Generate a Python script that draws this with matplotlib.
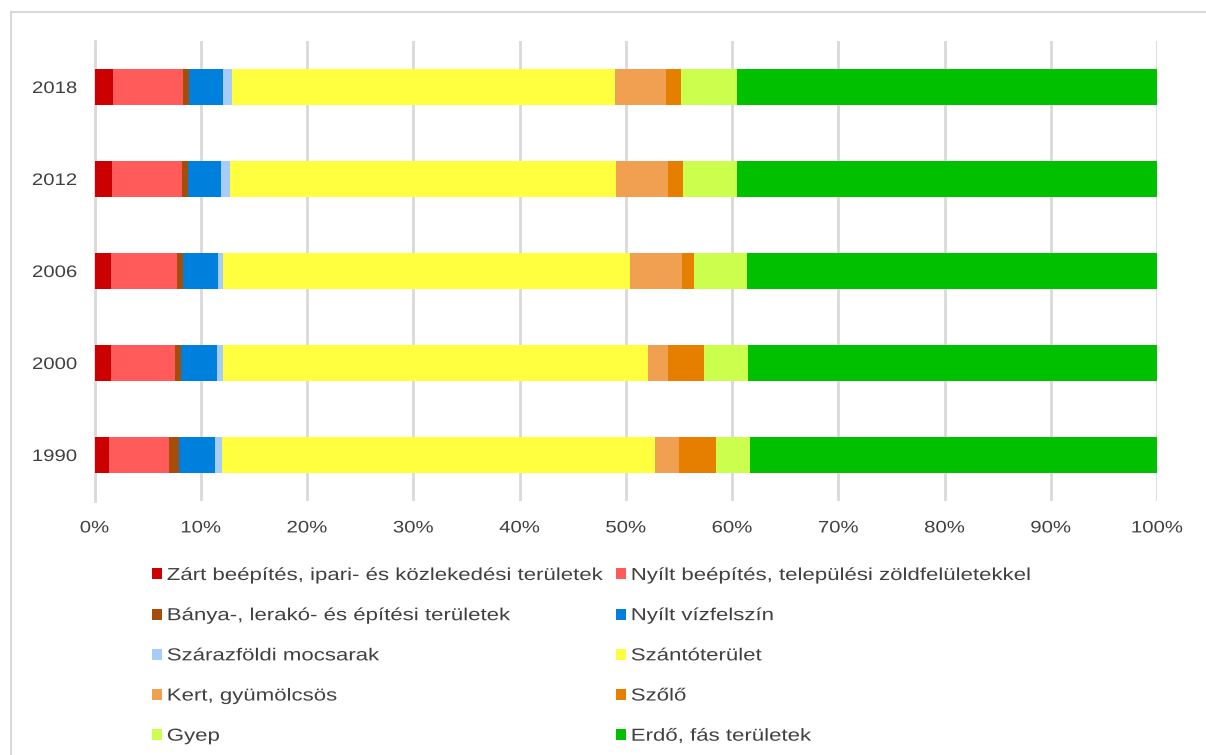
import matplotlib.pyplot as plt
import numpy as np
from matplotlib.lines import Line2D
from matplotlib.transforms import Affine2D
from matplotlib import patheffects

plt.rcParams['font.family'] = ['Liberation Sans', 'DejaVu Sans']

years = ['1990', '2000', '2006', '2012', '2018']
categories = [
    'Zárt beépítés, ipari- és közlekedési területek',
    'Nyílt beépítés, települési zöldfelületekkel',
    'Bánya-, lerakó- és építési területek',
    'Nyílt vízfelszín',
    'Szárazföldi mocsarak',
    'Szántóterület',
    'Kert, gyümölcsös',
    'Szőlő',
    'Gyep',
    'Erdő, fás területek',
]
colors = ['#CC0000', '#FF5B5B', '#A64D0A', '#0080DD', '#A8CCF8',
          '#FFFF40', '#F0A050', '#E67E00', '#CCFF4D', '#00C000']

# share of land cover (%) per year, order 1990 .. 2018
zart = [1.40, 1.55, 1.55, 1.62, 1.77]
nyilt_beep = [5.65, 6.03, 6.19, 6.59, 6.53]
banya = [0.94, 0.53, 0.56, 0.63, 0.63]
viz = [3.36, 3.45, 3.36, 3.07, 3.14]
mocsar = [0.69, 0.57, 0.47, 0.85, 0.91]
szanto = [40.67, 39.92, 38.29, 36.34, 36.00]
kert = [2.26, 1.89, 4.87, 4.87, 4.80]
szolo = [3.52, 3.45, 1.09, 1.38, 1.40]
gyep = [3.23, 4.08, 5.03, 5.12, 5.27]
erdo = [38.28, 38.53, 38.59, 39.53, 39.53]

series = [zart, nyilt_beep, banya, viz, mocsar, szanto, kert, szolo, gyep, erdo]
data = np.array(series, dtype=float)
data = data / data.sum(axis=0) * 100


class Widen(patheffects.AbstractPathEffect):
    """Draw text glyphs stretched horizontally around an anchor."""

    def __init__(self, sx, anchor='left'):
        super().__init__()
        self.sx = sx
        self.anchor = anchor

    def draw_path(self, renderer, gc, tpath, affine, rgbFace=None):
        ext = tpath.get_extents()
        if self.anchor == 'center':
            cx = (ext.x0 + ext.x1) / 2
        elif self.anchor == 'right':
            cx = ext.x1
        else:
            cx = 0
        st = Affine2D().translate(-cx, 0).scale(self.sx, 1).translate(cx, 0)
        renderer.draw_path(gc, tpath, st + affine, rgbFace)


fig = plt.figure(figsize=(12.06, 7.55), dpi=100)
ax = fig.add_axes([94.5 / 1206, 1 - 501 / 755, (1157 - 94.5) / 1206, 460 / 755])

y = np.arange(len(years))
left = np.zeros(len(years))
handles = []
for vals, name, col in zip(data, categories, colors):
    h = ax.barh(y, vals, left=left, height=0.39, color=col, label=name, zorder=3)
    handles.append(h)
    left += vals

ax.set_xlim(0, 100)
ax.set_ylim(-0.5, len(years) - 0.5)
ax.set_yticks(y)
ax.set_yticklabels(years)
ax.set_xticks(np.arange(0, 101, 10))
ax.set_xticklabels([f'{v}%' for v in range(0, 101, 10)])
ax.tick_params(axis='both', length=0, labelsize=12, labelcolor='#404040')
ax.tick_params(axis='x', pad=14)
ax.tick_params(axis='y', pad=12.5)
for lab in ax.get_xticklabels():
    lab.set_path_effects([Widen(1.22, 'center')])
for lab in ax.get_yticklabels():
    lab.set_path_effects([Widen(1.22, 'right')])
ax.grid(axis='x', color='#D9D9D9', linewidth=2, zorder=0)
for side in ['top', 'right', 'bottom']:
    ax.spines[side].set_visible(False)
ax.spines['left'].set_color('#D9D9D9')
ax.spines['left'].set_linewidth(2)

# legend in two fixed columns
legend_kw = dict(loc='upper left', frameon=False, fontsize=12.5,
                 labelcolor='#404040', handlelength=0.6, handleheight=0.6,
                 handletextpad=0.25, labelspacing=1.45, borderaxespad=0,
                 borderpad=0)
for col_idx, x_left in [([0, 2, 4, 6, 8], 152), ([1, 3, 5, 7, 9], 616)]:
    leg = fig.legend([handles[i] for i in col_idx],
                     [categories[i] for i in col_idx],
                     bbox_to_anchor=(x_left / 1206, 1 - 568 / 755), **legend_kw)
    for t in leg.get_texts():
        t.set_path_effects([Widen(1.28, 'left')])

# outer frame
fig.add_artist(Line2D([11 / 1206, 1], [1 - 12 / 755, 1 - 12 / 755],
                      transform=fig.transFigure, color='#D9D9D9', lw=1.5))
fig.add_artist(Line2D([11 / 1206, 11 / 1206], [0, 1 - 12 / 755],
                      transform=fig.transFigure, color='#D9D9D9', lw=1.5))

fig.savefig('out.png', dpi=100)
